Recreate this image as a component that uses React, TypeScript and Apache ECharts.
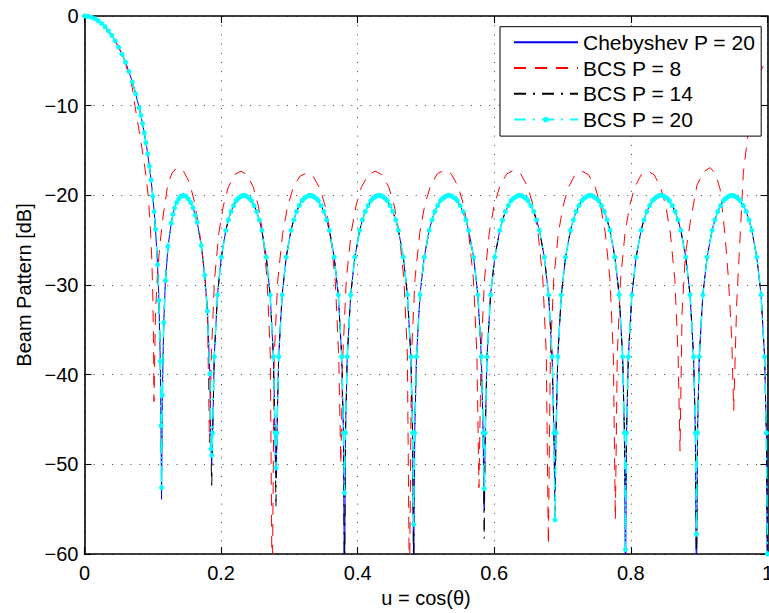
import React, { useEffect, useRef } from "react";
import * as echarts from "echarts";

const FONT = "'Liberation Sans', Arial, Helvetica, sans-serif";

const seriesNames = ["Chebyshev P = 20", "BCS P = 8", "BCS P = 14", "BCS P = 20"];
const xTickStep = 0.2;
const yTickStep = 10;

// Chebyshev-family curve (shared by Chebyshev P=20, BCS P=14, BCS P=20 away from the nulls)
const chebU = [
  // main lobe
  0, 0.005, 0.01, 0.015, 0.02, 0.025, 0.03, 0.035, 0.04, 0.045, 0.05, 0.055, 0.06, 0.065, 0.07, 0.075,
  0.08, 0.0825, 0.085, 0.0875, 0.09, 0.0925, 0.095, 0.0975, 0.1, 0.102, 0.104, 0.107, 0.109, 0.111, 0.112,
  // lobe 1
  0.114, 0.116, 0.1185, 0.1223, 0.127, 0.1295, 0.132, 0.135, 0.138, 0.141, 0.1448, 0.1485, 0.152, 0.1555, 0.159, 0.162, 0.165, 0.171, 0.176, 0.18, 0.1835, 0.1852,
  // lobe 2
  0.18767, 0.18998, 0.19473, 0.20037, 0.20696, 0.21072, 0.21448, 0.21824, 0.22201, 0.22483, 0.22765, 0.23047, 0.2333, 0.23612, 0.23894, 0.24176, 0.24458, 0.24835, 0.25211, 0.25587, 0.25963, 0.26622, 0.27186, 0.27657, 0.27892,
  // lobe 3
  0.28183, 0.28434, 0.28936, 0.29538, 0.3024, 0.30641, 0.31043, 0.31444, 0.31845, 0.32146, 0.32447, 0.32748, 0.33049, 0.3335, 0.33651, 0.33952, 0.34253, 0.34654, 0.35055, 0.35457, 0.35858, 0.3656, 0.37162, 0.37664, 0.37915,
  // lobe 4
  0.38217, 0.3847, 0.38977, 0.39585, 0.40294, 0.407, 0.41105, 0.4151, 0.41916, 0.4222, 0.42524, 0.42828, 0.43132, 0.43435, 0.43739, 0.44043, 0.44347, 0.44753, 0.45158, 0.45563, 0.45969, 0.46678, 0.47286, 0.47793, 0.48046,
  // lobe 5
  0.48353, 0.48611, 0.49127, 0.49747, 0.5047, 0.50883, 0.51296, 0.51709, 0.52122, 0.52432, 0.52742, 0.53052, 0.53362, 0.53671, 0.53981, 0.54291, 0.54601, 0.55014, 0.55427, 0.5584, 0.56253, 0.56976, 0.57596, 0.58112, 0.5837,
  // lobe 6
  0.5868, 0.5894, 0.59458, 0.6008, 0.60805, 0.6122, 0.61634, 0.62049, 0.62463, 0.62774, 0.63085, 0.63396, 0.63707, 0.64018, 0.64329, 0.6464, 0.64951, 0.65365, 0.6578, 0.66194, 0.66609, 0.67334, 0.67956, 0.68474, 0.68734,
  // lobe 7
  0.69044, 0.69302, 0.69818, 0.70438, 0.7116, 0.71573, 0.71986, 0.72399, 0.72812, 0.73122, 0.73432, 0.73741, 0.74051, 0.74361, 0.7467, 0.7498, 0.7529, 0.75703, 0.76116, 0.76529, 0.76942, 0.77664, 0.78284, 0.788, 0.79058,
  // lobe 8
  0.79369, 0.79629, 0.80148, 0.80772, 0.81499, 0.81915, 0.8233, 0.82746, 0.83162, 0.83473, 0.83785, 0.84097, 0.84409, 0.8472, 0.85032, 0.85344, 0.85655, 0.86071, 0.86487, 0.86902, 0.87318, 0.88045, 0.88669, 0.89188, 0.89448,
  // lobe 9
  0.8976, 0.9002, 0.9054, 0.91163, 0.91891, 0.92307, 0.92723, 0.93139, 0.93554, 0.93866, 0.94178, 0.9449, 0.94802, 0.95114, 0.95426, 0.95738, 0.9605, 0.96465, 0.96881, 0.97297, 0.97713, 0.98441, 0.99064, 0.99584, 0.99844,
];
const chebDb = [
  0, -0.03, -0.13, -0.3, -0.53, -0.83, -1.2, -1.65, -2.17, -2.78, -3.48, -4.26, -5.16, -6.2, -7.35, -8.69,
  -10.22, -11.08, -11.99, -13.02, -14.13, -15.36, -16.74, -18.29, -20.09, -21.81, -23.79, -27.74, -31.7, -38.49, -45.7,
  -42.3, -34.2, -29.5, -25.7, -23.1, -22.1, -21.4, -20.8, -20.4, -20.1, -20.0, -20.1, -20.4, -20.8, -21.4, -22.2, -23.0, -25.6, -28.9, -32.9, -39.9, -48.3,
  -46.5, -38.0, -31.1, -26.9, -23.9, -22.74, -21.8, -21.15, -20.6, -20.35, -20.2, -20.04, -20.0, -20.04, -20.2, -20.35, -20.6, -21.15, -21.8, -22.74, -23.9, -26.9, -31.1, -38.0, -46.5,
  -46.5, -38.0, -31.1, -26.9, -23.9, -22.74, -21.8, -21.15, -20.6, -20.35, -20.2, -20.04, -20.0, -20.04, -20.2, -20.35, -20.6, -21.15, -21.8, -22.74, -23.9, -26.9, -31.1, -38.0, -46.5,
  -46.5, -38.0, -31.1, -26.9, -23.9, -22.74, -21.8, -21.15, -20.6, -20.35, -20.2, -20.04, -20.0, -20.04, -20.2, -20.35, -20.6, -21.15, -21.8, -22.74, -23.9, -26.9, -31.1, -38.0, -46.5,
  -46.5, -38.0, -31.1, -26.9, -23.9, -22.74, -21.8, -21.15, -20.6, -20.35, -20.2, -20.04, -20.0, -20.04, -20.2, -20.35, -20.6, -21.15, -21.8, -22.74, -23.9, -26.9, -31.1, -38.0, -46.5,
  -46.5, -38.0, -31.1, -26.9, -23.9, -22.74, -21.8, -21.15, -20.6, -20.35, -20.2, -20.04, -20.0, -20.04, -20.2, -20.35, -20.6, -21.15, -21.8, -22.74, -23.9, -26.9, -31.1, -38.0, -46.5,
  -46.5, -38.0, -31.1, -26.9, -23.9, -22.74, -21.8, -21.15, -20.6, -20.35, -20.2, -20.04, -20.0, -20.04, -20.2, -20.35, -20.6, -21.15, -21.8, -22.74, -23.9, -26.9, -31.1, -38.0, -46.5,
  -46.5, -38.0, -31.1, -26.9, -23.9, -22.74, -21.8, -21.15, -20.6, -20.35, -20.2, -20.04, -20.0, -20.04, -20.2, -20.35, -20.6, -21.15, -21.8, -22.74, -23.9, -26.9, -31.1, -38.0, -46.5,
  -46.5, -38.0, -31.1, -26.9, -23.9, -22.74, -21.8, -21.15, -20.6, -20.35, -20.2, -20.04, -20.0, -20.04, -20.2, -20.35, -20.6, -21.15, -21.8, -22.74, -23.9, -26.9, -31.1, -38.0, -46.5,
];

// Null positions and depths per series
const nullU = [0.1128, 0.18626, 0.28033, 0.38065, 0.48198, 0.58525, 0.68889, 0.79213, 0.89604, 1.0];
const nullDbCheb = [-53.9, -50.0, -51.5, -65, -63, -55.2, -53.0, -65, -65, -65];
const nullDbBcs14 = [-51.0, -52.7, -54.8, -65, -65, -58.3, -55.9, -53.0, -65, -65];
const nullDbBcs20 = [-52.6, -49.0, -50.4, -53.2, -56.7, -52.7, -56.2, -59.5, -57.8, -60];

// BCS P = 8
const bcs8U = [
  0, 0.01, 0.02, 0.03, 0.04, 0.05, 0.055, 0.06, 0.066, 0.07, 0.0738, 0.08, 0.0859, 0.09, 0.0932, 0.096, 0.0985, 0.1, 0.101,
  0.1017, 0.104, 0.107, 0.1103, 0.1151, 0.1223, 0.129, 0.1369, 0.145, 0.1539, 0.1612, 0.167, 0.171, 0.1758, 0.18,
  0.183, 0.18575, 0.19034, 0.19677, 0.2032, 0.21054, 0.21972, 0.2289, 0.23808, 0.24726, 0.2546, 0.26103, 0.26746, 0.27205,
  0.2748, 0.27782, 0.28284, 0.28988, 0.29691, 0.30495, 0.315, 0.32505, 0.3351, 0.34515, 0.35319, 0.36023, 0.36726, 0.37229,
  0.3753, 0.37832, 0.38334, 0.39038, 0.39741, 0.40545, 0.4155, 0.42555, 0.4356, 0.44565, 0.45369, 0.46073, 0.46776, 0.47279,
  0.4758, 0.47885, 0.48394, 0.49107, 0.4982, 0.50634, 0.51652, 0.5267, 0.53688, 0.54706, 0.5552, 0.56233, 0.56946, 0.57455,
  0.5776, 0.58065, 0.58573, 0.59284, 0.59995, 0.60808, 0.61824, 0.6284, 0.63856, 0.64872, 0.65685, 0.66396, 0.67107, 0.67615,
  0.6792, 0.68214, 0.68705, 0.69392, 0.70078, 0.70863, 0.71844, 0.72825, 0.73806, 0.74787, 0.75572, 0.76259, 0.76945, 0.77436,
  0.7773, 0.78014, 0.78488, 0.79151, 0.79813, 0.80571, 0.81518, 0.82465, 0.83412, 0.84359, 0.85117, 0.8578, 0.86442, 0.86916,
  0.872, 0.875, 0.88, 0.887, 0.8967, 0.906, 0.9161, 0.924, 0.9307, 0.938, 0.9429, 0.9477,
  0.9506, 0.955, 0.9598, 0.9647, 0.9695, 0.9793, 0.987, 0.9939, 1.0,
];
const bcs8Db = [
  0, -0.13, -0.53, -1.2, -2.2, -3.5, -4.3, -5.3, -6.9, -8.0, -10.0, -12.8, -15.6, -17.8, -20.0, -23.0, -27.0, -31.0, -36.0,
  -43.0, -33.0, -28.5, -25.6, -22.3, -18.6, -17.4, -16.9, -17.3, -18.6, -20.8, -23.3, -25.6, -28.5, -33.0,
  -47.6, -37.8, -29.4, -24.2, -21.2, -19.1, -17.7, -17.3, -17.7, -19.1, -21.2, -24.2, -29.4, -37.8,
  -65, -38.0, -29.6, -24.4, -21.4, -19.3, -17.9, -17.5, -17.9, -19.3, -21.4, -24.4, -29.6, -38.0,
  -50.0, -37.8, -29.4, -24.2, -21.2, -19.1, -17.7, -17.3, -17.7, -19.1, -21.2, -24.2, -29.4, -37.8,
  -65, -37.7, -29.3, -24.1, -21.1, -19.0, -17.6, -17.2, -17.6, -19.0, -21.1, -24.1, -29.3, -37.7,
  -52.6, -37.7, -29.3, -24.1, -21.1, -19.0, -17.6, -17.2, -17.6, -19.0, -21.1, -24.1, -29.3, -37.7,
  -59.0, -37.8, -29.4, -24.2, -21.2, -19.1, -17.7, -17.3, -17.7, -19.1, -21.2, -24.2, -29.4, -37.8,
  -56.2, -37.8, -29.4, -24.2, -21.2, -19.1, -17.7, -17.3, -17.7, -19.1, -21.2, -24.2, -29.4, -37.8,
  -48.5, -33.0, -26.5, -23.0, -18.9, -17.4, -16.9, -17.6, -19.3, -24.5, -29.3, -36.0,
  -44.0, -32.0, -24.9, -17.5, -14.5, -8.2, -6.5, -5.6, -5.0,
];

function withNulls(nullDb: number[]) {
  const pts = chebU.map((u, i) => [u, chebDb[i]]);
  nullU.forEach((u, i) => pts.push([u, nullDb[i]]));
  return pts.sort((a, b) => a[0] - b[0]);
}

export default function App() {
  const ref = useRef<HTMLDivElement>(null);

  useEffect(() => {
    if (!ref.current) return;
    const chart = echarts.init(ref.current, null, { renderer: "svg" });

    const axisLine = { show: true, onZero: false, lineStyle: { color: "#000", width: 1.6 } };
    const axisTick = { show: true, inside: true, length: 7, lineStyle: { color: "#000", width: 1.1 } };
    const splitLine = { show: true, lineStyle: { color: "#444", width: 1, type: [1, 8.2] } };
    const labelStyle = { fontFamily: FONT, fontSize: 20, color: "#000" };

    const xFmt = (v: number) => (v === 0 ? "0" : v === 1 ? "1" : v.toFixed(1));
    const yFmt = (v: number) => (v === 0 ? "0" : "\u2212" + Math.abs(v));
    const dashDot = [12, 7, 2, 7];

    chart.setOption({
      animation: false,
      textStyle: { fontFamily: FONT },
      grid: { left: 84.5, right: 5.5, top: 16, bottom: 56.3, containLabel: false },
      legend: {
        orient: "vertical",
        left: 500,
        top: 26.7,
        itemWidth: 64,
        itemHeight: 7,
        itemGap: 4.8,
        padding: [5, 6, 6, 13],
        borderColor: "#000",
        borderWidth: 1,
        backgroundColor: "#fff",
        selectedMode: false,
        textStyle: { fontFamily: FONT, fontSize: 21, color: "#000", lineHeight: 21 },
        data: [
          { name: seriesNames[0], itemStyle: { opacity: 0 } },
          { name: seriesNames[1], itemStyle: { opacity: 0 } },
          { name: seriesNames[2], itemStyle: { opacity: 0 } },
          { name: seriesNames[3] },
        ],
      },
      xAxis: [
        {
          type: "value",
          min: 0,
          max: 1,
          interval: xTickStep,
          position: "bottom",
          axisLine,
          axisTick,
          splitLine,
          axisLabel: { ...labelStyle, margin: 9, formatter: xFmt },
          name: "u = cos(\u03b8)",
          nameLocation: "middle",
          nameGap: 34,
          nameTextStyle: { fontFamily: FONT, fontSize: 20, color: "#000" },
        },
        {
          type: "value",
          min: 0,
          max: 1,
          interval: xTickStep,
          position: "top",
          axisLine,
          axisTick,
          splitLine: { show: false },
          axisLabel: { show: false },
        },
      ],
      yAxis: [
        {
          type: "value",
          min: -60,
          max: 0,
          interval: yTickStep,
          position: "left",
          axisLine,
          axisTick,
          splitLine,
          axisLabel: { ...labelStyle, margin: 6, formatter: yFmt },
          name: "Beam Pattern [dB]",
          nameLocation: "middle",
          nameGap: 51,
          nameTextStyle: { fontFamily: FONT, fontSize: 20, color: "#000" },
        },
        {
          type: "value",
          min: -60,
          max: 0,
          interval: yTickStep,
          position: "right",
          axisLine,
          axisTick,
          splitLine: { show: false },
          axisLabel: { show: false },
        },
      ],
      series: [
        {
          name: seriesNames[0],
          type: "line",
          data: withNulls(nullDbCheb),
          symbol: "none",
          color: "#0000ff",
          lineStyle: { color: "#0000ff", width: 1 },
          silent: true,
          clip: true,
        },
        {
          name: seriesNames[1],
          type: "line",
          data: bcs8U.map((u, i) => [u, bcs8Db[i]]),
          symbol: "none",
          color: "#ff0000",
          lineStyle: { color: "#ff0000", width: 1, type: [12, 9] },
          silent: true,
          clip: true,
        },
        {
          name: seriesNames[2],
          type: "line",
          data: withNulls(nullDbBcs14),
          symbol: "none",
          color: "#000000",
          lineStyle: { color: "#000000", width: 1, type: dashDot },
          silent: true,
          clip: true,
        },
        {
          name: seriesNames[3],
          type: "line",
          data: withNulls(nullDbBcs20),
          symbol: "circle",
          symbolSize: 5,
          showSymbol: true,
          color: "#00ffff",
          itemStyle: { color: "#00ffff" },
          lineStyle: { color: "#00ffff", width: 1.5, type: dashDot },
          silent: true,
          clip: true,
        },
      ],
    });

    return () => chart.dispose();
  }, []);

  return (
    <div
      style={{
        position: "fixed",
        left: 0,
        top: 0,
        width: 769,
        height: 613,
        overflow: "hidden",
        background: "#fff",
      }}
    >
      <div ref={ref} style={{ width: 776, height: 613 }} />
    </div>
  );
}
